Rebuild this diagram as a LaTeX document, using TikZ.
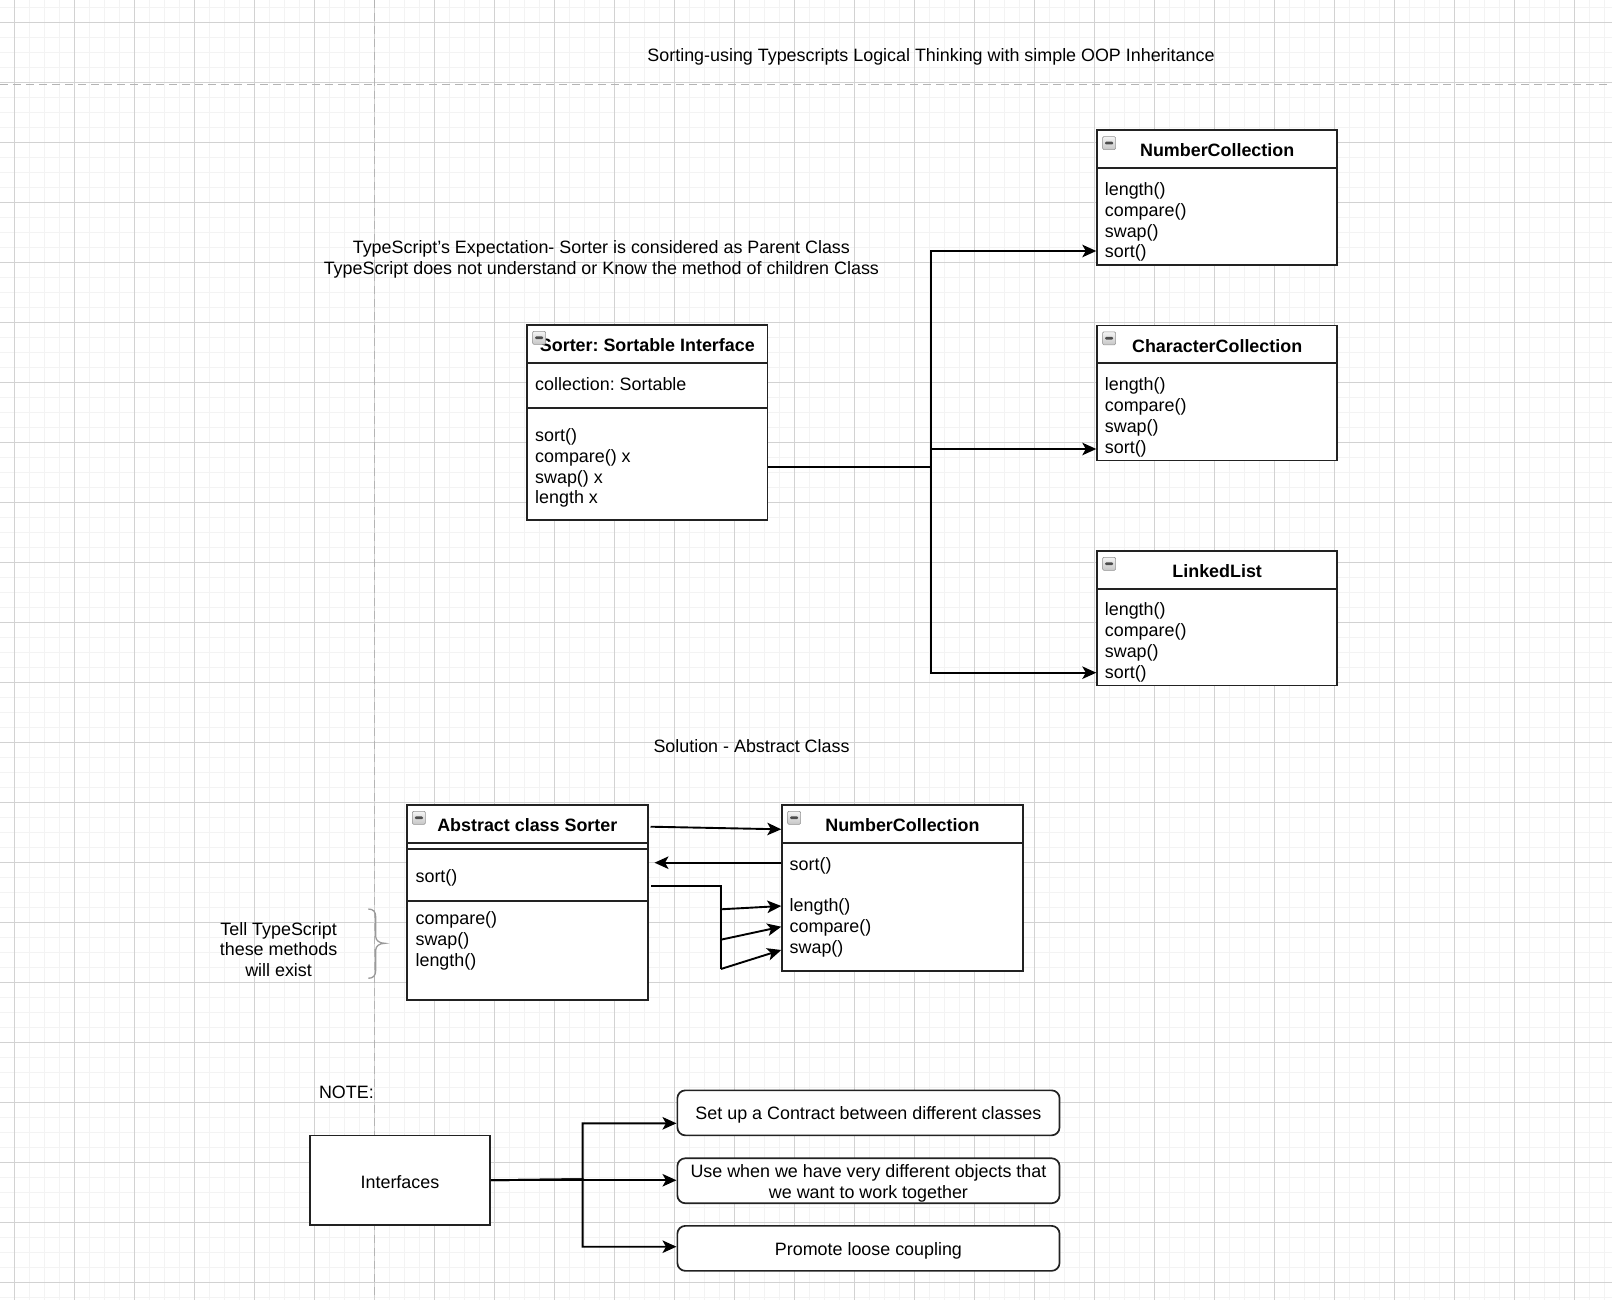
\documentclass[tikz,border=0pt]{standalone}
\usepackage{fontspec}
\setmainfont{Liberation Sans}
\usetikzlibrary{arrows.meta,calc}

\definecolor{gridmajor}{HTML}{D2D2D2}
\definecolor{gridminor}{HTML}{F3F3F3}
\definecolor{guide}{HTML}{B4B4B4}
\definecolor{boxline}{HTML}{222222}
\definecolor{bracecol}{HTML}{9A9A9A}

\newcommand\uifont{\fontsize{17.9}{20.8}\selectfont\frenchspacing}

\tikzset{
  minorline/.style={draw=gridminor, line width=1.2pt},
  majorline/.style={draw=gridmajor, line width=1pt},
  guideline/.style={draw=guide, line width=1.3pt, dash pattern=on 8pt off 5pt},
  classbox/.style={draw=boxline, line width=1.7pt, fill=white, inner sep=0, anchor=north west},
  classrule/.style={draw=boxline, line width=1.7pt},
  classtitle/.style={font=\uifont\bfseries, inner sep=0, anchor=base},
  linetext/.style={font=\uifont, inner sep=0, anchor=base west},
  label/.style={font=\uifont, inner sep=0, align=center},
  toggle/.style={draw=gray!85, line width=0.6pt, rounded corners=1.2pt,
    minimum width=13pt, minimum height=13pt, inner sep=0, anchor=north west,
    top color=gray!8, bottom color=gray!45,
    path picture={\fill[black!70]
      ($(path picture bounding box.west)+(2.4,1.4)$) rectangle
      ($(path picture bounding box.east)+(-2.4,-1.4)$);}},
  plainbox/.style={draw=boxline, line width=1.7pt, fill=white, inner sep=0, anchor=north west, font=\uifont},
  notebox/.style={plainbox, rounded corners=8pt, align=center},
  wire/.style={draw=black, line width=1.9pt},
  conn/.style={wire, -{Stealth[length=14pt, width=12.5pt, inset=3.5pt]}},
}

% class box: name, x, y, width, height, header height, title
\newcommand\umlclass[7]{%
  \node[classbox, minimum width=#4pt, minimum height=#5pt] (#1) at (#2,#3) {};
  \draw[classrule] ($(#1.north west)+(0,#6)$) -- ($(#1.north east)+(0,#6)$);
  \node[classtitle] (#1-title) at ($(#1.north)+(0,27.7)$) {#7};
  \node[toggle] (#1-toggle) at ($(#1.north west)+(6,7)$) {};
}
% member lines: prefix, x, first baseline, items
\newcommand\umllines[4]{%
  \foreach \t [count=\i from 0] in {#4}{%
    \node[linetext] (#1-\i) at (#2,{#3+20.8*\i}) {\t};}%
}
% horizontal divider inside a class box at a given offset from its top
\newcommand\umldivider[2]{%
  \draw[classrule] ($(#1.north west)+(0,#2)$) -- ($(#1.north east)+(0,#2)$);}

\begin{document}
\begin{tikzpicture}[x=1pt,y=-1pt]
\useasboundingbox (0,0) rectangle (1612,1300);
\fill[white] (0,0) rectangle (1612,1300);

% background grid
\foreach \gx in {-0.5,14.5,...,1612} \draw[minorline] (\gx,0) -- (\gx,1300);
\foreach \gy in {7.3,22.3,...,1300} \draw[minorline] (0,\gy) -- (1612,\gy);
\foreach \gx in {14.5,74.5,...,1612} \draw[majorline] (\gx,0) -- (\gx,1300);
\foreach \gy in {22.3,82.3,...,1300} \draw[majorline] (0,\gy) -- (1612,\gy);

% page guides
\draw[guideline] (0,84.3) -- (1612,84.3);
\draw[guideline] (374.7,0) -- (374.7,1300);

% headings
\node[label] (heading) at (931,56.5) {Sorting-using Typescripts Logical Thinking with simple OOP Inheritance};
\node[label] (expect) at (601.4,259) {TypeScript's Expectation- Sorter is considered as Parent Class\\TypeScript does not understand or Know the method of children Class};

% Sorter with an interface
\umlclass{sorter}{526.3}{324}{240.4}{195.3}{39.3}{Sorter: Sortable Interface}
\umldivider{sorter}{84.3}
\umllines{sattr}{535}{390}{collection: Sortable}
\umllines{smeth}{535}{441.4}{sort(), compare() x, swap() x, length x}

% concrete collections
\umlclass{nc}{1096.3}{129.3}{240}{134.7}{39}{NumberCollection}
\umllines{ncm}{1104.7}{195.6}{length(), compare(), swap(), sort()}
\umlclass{cc}{1096.3}{324.5}{240}{135}{38.5}{CharacterCollection}
\umllines{ccm}{1104.7}{390.6}{length(), compare(), swap(), sort()}
\umlclass{ll}{1096.3}{550}{240}{134.7}{39}{LinkedList}
\umllines{llm}{1104.7}{615.8}{length(), compare(), swap(), sort()}

% Sorter to collections
\coordinate (split) at (931.3,466.7);
\coordinate (r1) at (0,251);
\coordinate (r2) at (0,449);
\coordinate (r3) at (0,672.7);
\draw[conn] (sorter.east |- split) -- (split) |- (nc.west |- r1);
\draw[conn] (sorter.east |- split) -- (split) |- (cc.west |- r2);
\draw[conn] (sorter.east |- split) -- (split) |- (ll.west |- r3);

% abstract class solution
\node[label] (solution) at (751.5,746.3) {Solution - Abstract Class};

\umlclass{abs}{406.1}{804}{240.7}{195.3}{39}{Abstract class Sorter}
\umldivider{abs}{45.3}
\umldivider{abs}{97.3}
\umllines{absa}{415.4}{882.6}{sort()}
\umllines{absb}{415.4}{924.6}{compare(), swap(), length()}

\umlclass{ncb}{781.3}{804}{240.5}{166}{39}{NumberCollection}
\umllines{ncba}{789.5}{870.1}{sort()}
\umllines{ncbb}{789.5}{911.7}{length(), compare(), swap()}

\coordinate (h1) at (0,826.7);
\coordinate (h1e) at (0,829.3);
\coordinate (h2) at (0,862.7);
\coordinate (h3) at (0,885.7);
\coordinate (fan) at (720.9,885.7);
\coordinate (f1) at (720.9,909.3);
\coordinate (f2) at (720.9,939.7);
\coordinate (f3) at (720.9,969);
\coordinate (t1) at (0,906);
\coordinate (t2) at (0,926.7);
\coordinate (t3) at (0,950);
\draw[conn] ($(abs.east |- h1)+(2,0)$) -- (ncb.west |- h1e);
\draw[conn] (ncb.west |- h2) -- ($(abs.east |- h2)+(6,0)$);
\draw[wire] ($(abs.east |- h3)+(2.6,0)$) -- (fan) -- (f3);
\draw[conn] (f1) -- (ncb.west |- t1);
\draw[conn] (f2) -- (ncb.west |- t2);
\draw[conn] (f3) -- (ncb.west |- t3);

% side note with a brace
\node[label] (tell) at (278.6,949.4) {Tell TypeScript\\these methods\\will exist};
\draw[draw=bracecol, line width=1.3pt]
  (368.3,909) .. controls (373.5,909) and (375.7,912) .. (375.7,917)
  -- (375.7,936.5) .. controls (375.7,940.5) and (379.5,943.3) .. (384.8,943.3)
  .. controls (379.5,943.3) and (375.7,946.1) .. (375.7,950.1)
  -- (375.7,970.3) .. controls (375.7,975.3) and (373.5,978.3) .. (368.3,978.3);

% notes on interfaces
\node[label] (note) at (346.4,1092) {NOTE:};
\node[plainbox, minimum width=180.2pt, minimum height=89.8pt] (iface) at (309,1134.5) {};
\node[label] (iface-text) at ($(iface.center)+(0,2)$) {Interfaces};

\node[notebox, minimum width=382.2pt, minimum height=45pt] (n1) at (676.5,1089.5) {};
\node[label] (n1-text) at ($(n1.center)+(0,2.5)$) {Set up a Contract between different classes};
\node[notebox, minimum width=382.2pt, minimum height=45pt] (n2) at (676.5,1157.4) {};
\node[label] (n2-text) at ($(n2.center)+(0,2.5)$) {Use when we have very different objects that\\we want to work together};
\node[notebox, minimum width=382.2pt, minimum height=45pt] (n3) at (676.5,1225) {};
\node[label] (n3-text) at ($(n3.center)+(0,2.5)$) {Promote loose coupling};

\coordinate (split2) at (582.6,1179.2);
\coordinate (q1) at (0,1123.3);
\coordinate (q3) at (0,1246.7);
\draw[conn] (iface.east) -- (split2) |- (n1.west |- q1);
\draw[conn] (iface.east) -- (n2.west |- iface.east);
\draw[conn] (iface.east) -- (split2) |- (n3.west |- q3);
\end{tikzpicture}
\end{document}
